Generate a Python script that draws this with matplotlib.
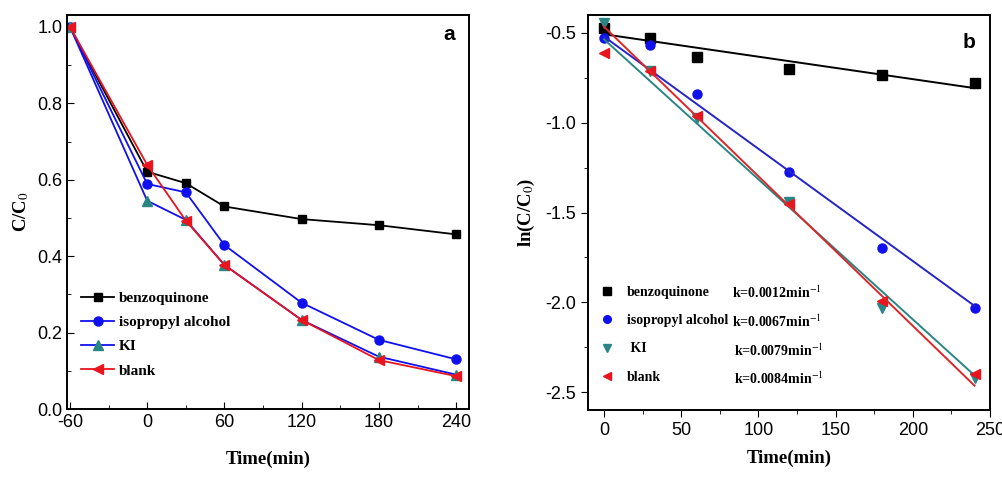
import numpy as np
import matplotlib
matplotlib.use('Agg')
import matplotlib.pyplot as plt
from matplotlib.ticker import MultipleLocator, FormatStrFormatter

# ---- data ----
t_a = [-60, 0, 30, 60, 120, 180, 240]
bq_a = [1.0, 0.621, 0.591, 0.530, 0.497, 0.481, 0.457]
ipa_a = [1.0, 0.589, 0.567, 0.429, 0.278, 0.181, 0.130]
ki_a = [1.0, 0.545, 0.495, 0.377, 0.233, 0.137, 0.090]
blank_a = [1.0, 0.639, 0.493, 0.377, 0.233, 0.128, 0.086]

t_b = [0, 30, 60, 120, 180, 240]
bq_b = [-0.474, -0.526, -0.635, -0.700, -0.733, -0.780]
ipa_b = [-0.530, -0.567, -0.840, -1.276, -1.700, -2.030]
ki_b = [-0.446, -0.710, -0.974, -1.440, -2.030, -2.420]
blank_b = [-0.613, -0.710, -0.960, -1.450, -1.990, -2.400]

# linear fits drawn in panel b (intercept, slope)
fit_icpt = [-0.507, -0.520, -0.535, -0.465]
fit_slope = [-0.00125, -0.00625, -0.0078, -0.00833]
k_labels = ['k=0.0012min$^{-1}$', 'k=0.0067min$^{-1}$',
            'k=0.0079min$^{-1}$', 'k=0.0084min$^{-1}$']
names = ['benzoquinone', 'isopropyl alcohol', 'KI', 'blank']

plt.rcParams['font.family'] = ['Liberation Sans Narrow', 'Liberation Sans', 'DejaVu Sans']
plt.rcParams['mathtext.fontset'] = 'stix'
plt.rcParams['axes.unicode_minus'] = False
serif_bold = dict(family='Liberation Serif', weight='bold')

fig = plt.figure(figsize=(10.03, 4.79), dpi=100)
ax1 = fig.add_axes([0.0668, 0.1461, 0.4008, 0.8225])
ax2 = fig.add_axes([0.5862, 0.1440, 0.4008, 0.8246])

teal = '#2a8585'
red = '#e8141e'
blue = '#1010ee'

# panel a
ax1.plot(t_a, bq_a, '-s', color='black', ms=6, lw=1.3, label=names[0])
ax1.plot(t_a, ipa_a, '-o', color=blue, ms=6.5, lw=1.3, label=names[1])
ax1.plot(t_a, ki_a, '-^', color=blue, mfc=teal, mec=teal, ms=6.5, lw=1.3, label=names[2])
ax1.plot(t_a, blank_a, '-<', color=red, ms=7, lw=1.3, label=names[3])
ax1.set_xlim(-62.3, 250)
ax1.set_ylim(0, 1.031)
ax1.xaxis.set_major_locator(MultipleLocator(60))
ax1.xaxis.set_minor_locator(MultipleLocator(30))
ax1.yaxis.set_major_locator(MultipleLocator(0.2))
ax1.yaxis.set_minor_locator(MultipleLocator(0.1))
ax1.yaxis.set_major_formatter(FormatStrFormatter('%.1f'))
ax1.tick_params(which='both', direction='in', labelsize=13)
ax1.tick_params(which='major', length=5)
ax1.tick_params(which='minor', length=3)
ax1.set_xlabel('Time(min)', fontsize=13.5, labelpad=14, **serif_bold)
ax1.set_ylabel('C/C$_0$', fontsize=13.5, labelpad=4, **serif_bold)
ax1.text(0.965, 0.95, 'a', transform=ax1.transAxes, fontsize=15, weight='bold',
         family='Liberation Sans', ha='right', va='center')
ax1.legend(loc='lower left', bbox_to_anchor=(0.0, 0.045), frameon=False,
           prop=dict(family='Liberation Serif', weight='bold', size=11),
           handlelength=2.2, handletextpad=0.3, labelspacing=0.68)

# panel b
markers = ['s', 'o', 'v', '<']
mcols = ['black', blue, teal, red]
lcols = ['black', '#2424c8', teal, '#d8282a']
series_b = [bq_b, ipa_b, ki_b, blank_b]
xfit = np.array([0, 240])
handles = []
for i in range(4):
    h, = ax2.plot(t_b, series_b[i], markers[i], color=mcols[i], ms=6.5, ls='none', label=names[i])
    handles.append(h)
    ax2.plot(xfit, fit_icpt[i] + fit_slope[i] * xfit, '-', color=lcols[i], lw=1.4)
ax2.set_xlim(-10.4, 250)
ax2.set_ylim(-2.6, -0.4)
ax2.xaxis.set_major_locator(MultipleLocator(50))
ax2.xaxis.set_minor_locator(MultipleLocator(25))
ax2.yaxis.set_major_locator(MultipleLocator(0.5))
ax2.yaxis.set_minor_locator(MultipleLocator(0.25))
ax2.yaxis.set_major_formatter(FormatStrFormatter('%.1f'))
ax2.tick_params(which='both', direction='out', labelsize=13)
ax2.tick_params(which='major', length=5)
ax2.tick_params(which='minor', length=3)
ax2.set_xlabel('Time(min)', fontsize=13.5, labelpad=8, **serif_bold)
ax2.set_ylabel('ln(C/C$_0$)', fontsize=13.5, labelpad=6, **serif_bold)
ax2.text(0.965, 0.93, 'b', transform=ax2.transAxes, fontsize=15, weight='bold',
         family='Liberation Sans', ha='right', va='center')
ax2.legend(handles=handles, labels=['benzoquinone', 'isopropyl alcohol', ' KI', 'blank'],
           loc='lower left', bbox_to_anchor=(0.0, 0.035), frameon=False,
           prop=dict(family='Liberation Serif', weight='bold', size=10),
           handlelength=1.0, handletextpad=0.9, labelspacing=1.1, markerscale=0.85)
k_x = [0.358, 0.358, 0.364, 0.364]
k_y = [0.296, 0.223, 0.149, 0.080]
for i in range(4):
    ax2.text(k_x[i], k_y[i], k_labels[i], transform=ax2.transAxes, fontsize=10,
             va='center', ha='left', **serif_bold)

for ax in (ax1, ax2):
    for s in ax.spines.values():
        s.set_linewidth(1.4)

fig.savefig('out.png', dpi=100)
